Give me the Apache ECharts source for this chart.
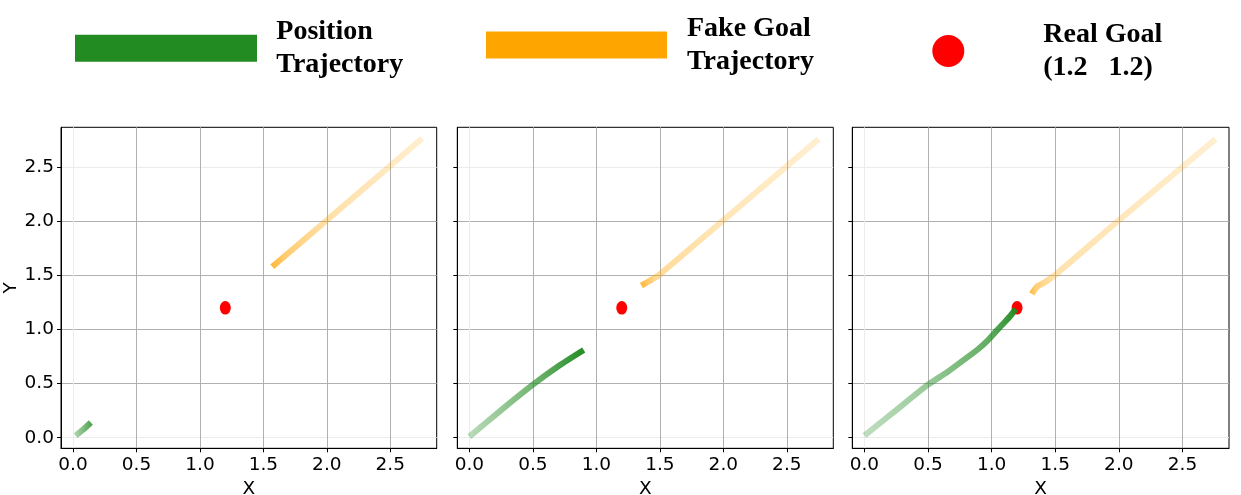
<!DOCTYPE html>
<html lang="en">
<head>
    <meta charset="UTF-8">
    <title>Trajectories</title>
    <style>
        * { padding: 0; margin: 0; }
        html, body { width: 100%; height: 100%; background: #fff; }
        #main { width: 1241px; height: 495px; }
    </style>
</head>
<body>
    <div id="main"></div>
</body>
</html>
<script src="https://cdn.jsdelivr.net/npm/echarts@6/dist/echarts.min.js"></script>
<script>
    // tick values (same on both axes)
    var xTicks = [0, 0.5, 1, 1.5, 2, 2.5];
    var yTicks = [0, 0.5, 1, 1.5, 2, 2.5];

    var realGoal = [[1.2, 1.2]];

    // panel 1 (early)
    var pos1 = [[0.02, 0.02], [0.08, 0.075], [0.14, 0.14]];
    var fake1 = [[2.75, 2.765], [2.0, 2.01], [1.57, 1.58]];

    // panel 2 (middle)
    var pos2 = [[0.0, 0.01], [0.25, 0.255], [0.5, 0.49], [0.7, 0.66], [0.9, 0.81]];
    var fake2 = [[2.75, 2.76], [2.0, 2.01], [1.5, 1.51], [1.42, 1.45], [1.355, 1.405]];

    // panel 3 (end)
    var pos3 = [[0.0, 0.02], [0.25, 0.255], [0.5, 0.49], [0.65, 0.605], [0.8, 0.735],
                [0.9, 0.825], [0.97, 0.9], [1.04, 0.99], [1.1, 1.065], [1.15, 1.13], [1.19, 1.19]];
    var fake3 = [[2.76, 2.76], [2.0, 2.01], [1.5, 1.505], [1.41, 1.43], [1.36, 1.4], [1.317, 1.33]];

    var names = ['Position Trajectory', 'Fake Goal Trajectory', 'Real Goal (1.2   1.2)'];
    var legendText = ['Position\nTrajectory', 'Fake Goal\nTrajectory', 'Real Goal\n(1.2   1.2)'];

    var panels = [
        { pos: pos1, fake: fake1 },
        { pos: pos2, fake: fake2 },
        { pos: pos3, fake: fake3 }
    ];

    // alpha fade along the path (offset 0 = left end of the line)
    var posAlpha = [
        [[0, 0.3], [1, 0.85]],
        [[0, 0.3], [0.5, 0.6], [1, 1]],
        [[0, 0.28], [0.4, 0.45], [0.8, 0.7], [1, 1]]
    ];
    var fakeAlpha = [
        [[0, 0.8], [0.11, 0.55], [0.36, 0.35], [1, 0.18]],
        [[0, 0.85], [0.05, 0.6], [0.1, 0.4], [0.46, 0.28], [1, 0.18]],
        [[0, 0.9], [0.03, 0.55], [0.13, 0.32], [1, 0.18]]
    ];

    var GREEN = '#228B22', ORANGE = '#FFA500', RED = '#FF0000';

    function fade(rgb, stops) {
        return new echarts.graphic.LinearGradient(0, 0, 1, 0, stops.map(function (s) {
            return { offset: s[0], color: 'rgba(' + rgb + ',' + s[1] + ')' };
        }));
    }

    var gridBoxes = [
        { left: 61, top: 127.3, width: 375.7, height: 321 },
        { left: 457.3, top: 127.3, width: 376, height: 321 },
        { left: 852.3, top: 127.3, width: 376.7, height: 321 }
    ];

    var tickFont = { fontFamily: 'DejaVu Sans', fontSize: 18.5, color: '#000' };
    var faint = '#ececec', gray = '#b0b0b0';

    var grids = [], xAxes = [], yAxes = [], series = [];
    panels.forEach(function (p, i) {
        var g = gridBoxes[i];
        grids.push({
            left: g.left, top: g.top, width: g.width, height: g.height,
            show: true, borderColor: '#000', borderWidth: 1,
            outerBoundsMode: 'none'
        });
        xAxes.push({
            type: 'value', gridIndex: i, min: -0.095, max: 2.866,
            name: 'X', nameLocation: 'middle', nameGap: 27,
            nameTextStyle: tickFont,
            axisLine: { show: true, onZero: false, lineStyle: { color: '#000', width: 1 } },
            axisTick: { show: true, length: 4, customValues: xTicks, lineStyle: { color: '#000' } },
            axisLabel: Object.assign({ customValues: xTicks, margin: 7, formatter: function (v) { return v.toFixed(1); } }, tickFont),
            splitLine: { show: true, lineStyle: { color: [faint, gray, gray, gray, gray, gray], width: 1 } }
        });
        yAxes.push({
            type: 'value', gridIndex: i, min: -0.098, max: 2.869,
            name: i === 0 ? 'Y' : '', nameLocation: 'middle', nameGap: 40, nameRotate: 90,
            nameTextStyle: tickFont,
            axisLine: { show: true, onZero: false, lineStyle: { color: '#000', width: 1 } },
            axisTick: { show: true, length: 4, customValues: yTicks, lineStyle: { color: '#000' } },
            axisLabel: Object.assign({ show: i === 0, customValues: yTicks, margin: 7, formatter: function (v) { return v.toFixed(1); } }, tickFont),
            splitLine: { show: true, lineStyle: { color: [faint, gray, gray, gray, gray, faint], width: 1 } }
        });
        series.push({
            name: names[1], type: 'line', xAxisIndex: i, yAxisIndex: i,
            data: p.fake, smooth: 0.2, symbol: 'none', color: ORANGE, z: 2,
            lineStyle: { width: 6, join: 'round', color: fade('255,165,0', fakeAlpha[i]) }
        });
        series.push({
            name: names[2], type: 'scatter', xAxisIndex: i, yAxisIndex: i,
            data: realGoal, symbol: 'circle', symbolSize: [11, 13.5], z: 3,
            itemStyle: { color: RED, opacity: 1 }
        });
        series.push({
            name: names[0], type: 'line', xAxisIndex: i, yAxisIndex: i,
            data: p.pos, smooth: 0.2, symbol: 'none', color: GREEN, z: 4,
            lineStyle: { width: 6, join: 'round', color: fade('34,139,34', posAlpha[i]) }
        });
    });

    var legendFont = { fontFamily: 'Liberation Serif', fontWeight: 'bold', fontSize: 28, lineHeight: 33, color: '#000' };

    function legendItem(idx, left, top, icon, w, h, color, pad) {
        return {
            left: left, top: top, padding: 0, selectedMode: false,
            itemWidth: w, itemHeight: h,
            data: [{ name: names[idx], icon: icon, itemStyle: { color: color, borderWidth: 0, opacity: 1 } }],
            formatter: function () { return legendText[idx]; },
            textStyle: Object.assign({ padding: pad }, legendFont)
        };
    }

    var myChart = echarts.init(document.getElementById('main'));
    myChart.setOption({
        animation: false,
        backgroundColor: '#fff',
        legend: [
            legendItem(0, 75, 11, 'rect', 182, 27, GREEN, [0, 0, 8.6, 14.3]),
            legendItem(1, 486, 9.4, 'rect', 181, 27, ORANGE, [0, 0, 5.2, 15]),
            legendItem(2, 932.3, 11, 'circle', 32, 32, RED, [0, 0, 14, 74])
        ],
        grid: grids,
        xAxis: xAxes,
        yAxis: yAxes,
        series: series
    });
</script>
